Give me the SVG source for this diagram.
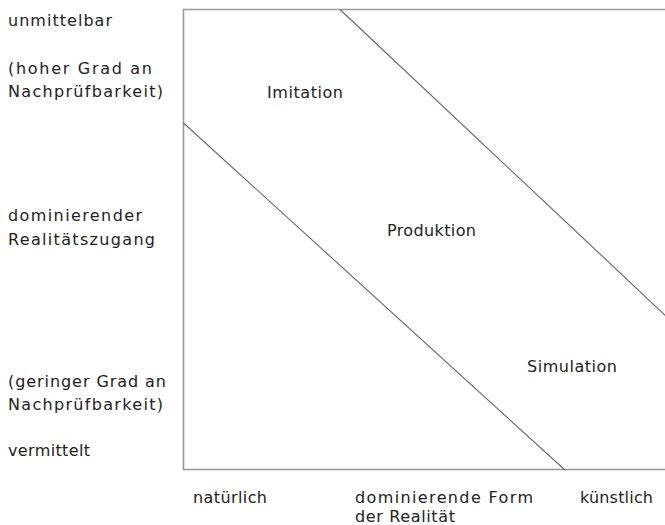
<svg xmlns="http://www.w3.org/2000/svg" width="665" height="525" viewBox="0 0 665 525">
<style>
text{font-family:"DejaVu Sans","Liberation Sans",sans-serif;font-size:16px;fill:#222}
.frame{fill:none;stroke:#999;stroke-width:1.6}
.div{stroke:#666;stroke-width:1.1;fill:none}
</style>
<rect width="665" height="525" fill="#fff"/>
<g id="frame">
<path class="frame" d="M668 9.5H183.5V469.5H668"/>
</g>
<g id="connectors">
<line class="div" x1="183.5" y1="123" x2="565" y2="470"/>
<line class="div" x1="340" y1="9.5" x2="668" y2="318"/>
</g>
<g id="axis-y">
<text x="8" y="26" textLength="104" lengthAdjust="spacing">unmittelbar</text>
<text x="8" y="74" textLength="144" lengthAdjust="spacing">(hoher Grad an</text>
<text x="8" y="97" textLength="155" lengthAdjust="spacing">Nachprüfbarkeit)</text>
<text x="8" y="221" textLength="134" lengthAdjust="spacing">dominierender</text>
<text x="8" y="245" textLength="147" lengthAdjust="spacing">Realitätszugang</text>
<text x="8" y="387" textLength="158" lengthAdjust="spacing">(geringer Grad an</text>
<text x="8" y="410" textLength="155" lengthAdjust="spacing">Nachprüfbarkeit)</text>
<text x="8" y="456" textLength="82" lengthAdjust="spacing">vermittelt</text>
</g>
<g id="axis-x">
<text x="193" y="503" textLength="74" lengthAdjust="spacing">natürlich</text>
<text x="355" y="503" textLength="178" lengthAdjust="spacing">dominierende Form</text>
<text x="355" y="522" textLength="100" lengthAdjust="spacing">der Realität</text>
<text x="580" y="503" textLength="73" lengthAdjust="spacing">künstlich</text>
</g>
<g id="imitation"><text x="267" y="98" textLength="76" lengthAdjust="spacing">Imitation</text></g>
<g id="produktion"><text x="387" y="236" textLength="89" lengthAdjust="spacing">Produktion</text></g>
<g id="simulation"><text x="527" y="372" textLength="90" lengthAdjust="spacing">Simulation</text></g>
</svg>
